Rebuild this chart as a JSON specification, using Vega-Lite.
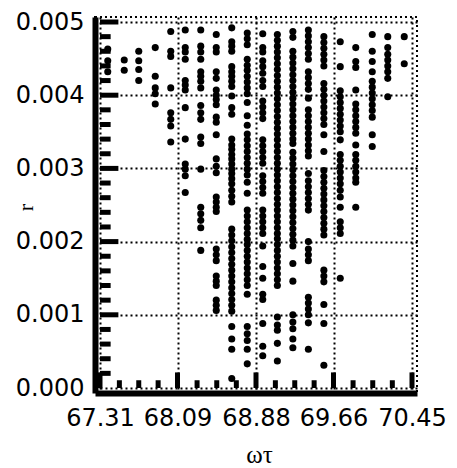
{
"$schema": "https://vega.github.io/schema/vega-lite/v6.json",
"width": 322, "height": 376,
"autosize": {"type": "none"},
"padding": {"left": 95, "top": 17, "right": 40, "bottom": 75},
"background": "white",
"config": {"view": {"stroke": "black", "strokeWidth": 2, "strokeDash": [2, 3]}},
"resolve": {"axis": {"x": "independent", "y": "independent"}},
"datasets": {
"pts": [
{"wt":67.388,"r":0.00463},{"wt":67.388,"r":0.00447},{"wt":67.388,"r":0.00432},
{"wt":67.554,"r":0.00448},{"wt":67.554,"r":0.00434},
{"wt":67.700,"r":0.00460},{"wt":67.700,"r":0.00447},{"wt":67.700,"r":0.00435},{"wt":67.700,"r":0.00420},
{"wt":67.866,"r":0.00465},{"wt":67.866,"r":0.00426},{"wt":67.866,"r":0.00410},{"wt":67.866,"r":0.00402},{"wt":67.866,"r":0.00388},
{"wt":68.022,"r":0.00487},{"wt":68.022,"r":0.00460},{"wt":68.022,"r":0.00453},{"wt":68.022,"r":0.00410},{"wt":68.022,"r":0.00376},{"wt":68.022,"r":0.00367},{"wt":68.022,"r":0.00358},{"wt":68.022,"r":0.00336},
{"wt":68.168,"r":0.00489},{"wt":68.168,"r":0.00465},{"wt":68.168,"r":0.00459},{"wt":68.168,"r":0.00449},{"wt":68.168,"r":0.00420},{"wt":68.168,"r":0.00414},{"wt":68.168,"r":0.00407},{"wt":68.168,"r":0.00383},{"wt":68.168,"r":0.00340},{"wt":68.168,"r":0.00306},{"wt":68.168,"r":0.00299},{"wt":68.168,"r":0.00290},{"wt":68.168,"r":0.00267},
{"wt":68.324,"r":0.00489},{"wt":68.324,"r":0.00467},{"wt":68.324,"r":0.00459},{"wt":68.324,"r":0.00449},{"wt":68.324,"r":0.00432},{"wt":68.324,"r":0.00426},{"wt":68.324,"r":0.00419},{"wt":68.324,"r":0.00410},{"wt":68.324,"r":0.00386},{"wt":68.324,"r":0.00376},{"wt":68.324,"r":0.00367},{"wt":68.324,"r":0.00343},{"wt":68.324,"r":0.00334},{"wt":68.324,"r":0.00299},{"wt":68.324,"r":0.00247},{"wt":68.324,"r":0.00238},{"wt":68.324,"r":0.00229},{"wt":68.324,"r":0.00219},{"wt":68.324,"r":0.00188},
{"wt":68.480,"r":0.00483},{"wt":68.480,"r":0.00465},{"wt":68.480,"r":0.00459},{"wt":68.480,"r":0.00432},{"wt":68.480,"r":0.00423},{"wt":68.480,"r":0.00407},{"wt":68.480,"r":0.00400},{"wt":68.480,"r":0.00394},{"wt":68.480,"r":0.00387},{"wt":68.480,"r":0.00370},{"wt":68.480,"r":0.00363},{"wt":68.480,"r":0.00346},{"wt":68.480,"r":0.00313},{"wt":68.480,"r":0.00303},{"wt":68.480,"r":0.00294},{"wt":68.480,"r":0.00261},{"wt":68.480,"r":0.00254},{"wt":68.480,"r":0.00247},{"wt":68.480,"r":0.00241},{"wt":68.480,"r":0.00190},{"wt":68.480,"r":0.00182},{"wt":68.480,"r":0.00174},{"wt":68.480,"r":0.00153},{"wt":68.480,"r":0.00146},{"wt":68.480,"r":0.00140},{"wt":68.480,"r":0.00120},{"wt":68.480,"r":0.00113},{"wt":68.480,"r":0.00106},
{"wt":68.636,"r":0.00492},{"wt":68.636,"r":0.00473},{"wt":68.636,"r":0.00467},{"wt":68.636,"r":0.00460},{"wt":68.636,"r":0.00439},{"wt":68.636,"r":0.00432},{"wt":68.636,"r":0.00426},{"wt":68.636,"r":0.00419},{"wt":68.636,"r":0.00412},{"wt":68.636,"r":0.00399},{"wt":68.636,"r":0.00383},{"wt":68.636,"r":0.00374},{"wt":68.636,"r":0.00340},{"wt":68.636,"r":0.00332},{"wt":68.636,"r":0.00326},{"wt":68.636,"r":0.00319},{"wt":68.636,"r":0.00313},{"wt":68.636,"r":0.00306},{"wt":68.636,"r":0.00299},{"wt":68.636,"r":0.00293},{"wt":68.636,"r":0.00286},{"wt":68.636,"r":0.00279},{"wt":68.636,"r":0.00270},{"wt":68.636,"r":0.00262},{"wt":68.636,"r":0.00254},{"wt":68.636,"r":0.00217},{"wt":68.636,"r":0.00209},{"wt":68.636,"r":0.00201},{"wt":68.636,"r":0.00193},{"wt":68.636,"r":0.00185},{"wt":68.636,"r":0.00177},{"wt":68.636,"r":0.00169},{"wt":68.636,"r":0.00161},{"wt":68.636,"r":0.00153},{"wt":68.636,"r":0.00145},{"wt":68.636,"r":0.00137},{"wt":68.636,"r":0.00129},{"wt":68.636,"r":0.00121},{"wt":68.636,"r":0.00113},{"wt":68.636,"r":0.00105},{"wt":68.636,"r":0.00084},{"wt":68.636,"r":0.00067},{"wt":68.636,"r":0.00053},{"wt":68.636,"r":0.00013},
{"wt":68.792,"r":0.00485},{"wt":68.792,"r":0.00477},{"wt":68.792,"r":0.00469},{"wt":68.792,"r":0.00449},{"wt":68.792,"r":0.00441},{"wt":68.792,"r":0.00434},{"wt":68.792,"r":0.00426},{"wt":68.792,"r":0.00418},{"wt":68.792,"r":0.00410},{"wt":68.792,"r":0.00402},{"wt":68.792,"r":0.00390},{"wt":68.792,"r":0.00372},{"wt":68.792,"r":0.00359},{"wt":68.792,"r":0.00347},{"wt":68.792,"r":0.00339},{"wt":68.792,"r":0.00331},{"wt":68.792,"r":0.00323},{"wt":68.792,"r":0.00315},{"wt":68.792,"r":0.00307},{"wt":68.792,"r":0.00299},{"wt":68.792,"r":0.00291},{"wt":68.792,"r":0.00281},{"wt":68.792,"r":0.00266},{"wt":68.792,"r":0.00243},{"wt":68.792,"r":0.00235},{"wt":68.792,"r":0.00227},{"wt":68.792,"r":0.00219},{"wt":68.792,"r":0.00211},{"wt":68.792,"r":0.00203},{"wt":68.792,"r":0.00196},{"wt":68.792,"r":0.00188},{"wt":68.792,"r":0.00180},{"wt":68.792,"r":0.00172},{"wt":68.792,"r":0.00164},{"wt":68.792,"r":0.00156},{"wt":68.792,"r":0.00148},{"wt":68.792,"r":0.00140},{"wt":68.792,"r":0.00128},{"wt":68.792,"r":0.00084},{"wt":68.792,"r":0.00074},{"wt":68.792,"r":0.00065},{"wt":68.792,"r":0.00053},{"wt":68.792,"r":0.00033},
{"wt":68.948,"r":0.00484},{"wt":68.948,"r":0.00465},{"wt":68.948,"r":0.00459},{"wt":68.948,"r":0.00447},{"wt":68.948,"r":0.00439},{"wt":68.948,"r":0.00430},{"wt":68.948,"r":0.00420},{"wt":68.948,"r":0.00412},{"wt":68.948,"r":0.00392},{"wt":68.948,"r":0.00384},{"wt":68.948,"r":0.00376},{"wt":68.948,"r":0.00368},{"wt":68.948,"r":0.00339},{"wt":68.948,"r":0.00331},{"wt":68.948,"r":0.00323},{"wt":68.948,"r":0.00315},{"wt":68.948,"r":0.00307},{"wt":68.948,"r":0.00290},{"wt":68.948,"r":0.00282},{"wt":68.948,"r":0.00274},{"wt":68.948,"r":0.00266},{"wt":68.948,"r":0.00243},{"wt":68.948,"r":0.00235},{"wt":68.948,"r":0.00227},{"wt":68.948,"r":0.00219},{"wt":68.948,"r":0.00211},{"wt":68.948,"r":0.00194},{"wt":68.948,"r":0.00166},{"wt":68.948,"r":0.00150},{"wt":68.948,"r":0.00128},{"wt":68.948,"r":0.00121},{"wt":68.948,"r":0.00088},{"wt":68.948,"r":0.00057},{"wt":68.948,"r":0.00044},
{"wt":69.095,"r":0.00483},{"wt":69.095,"r":0.00475},{"wt":69.095,"r":0.00467},{"wt":69.095,"r":0.00459},{"wt":69.095,"r":0.00451},{"wt":69.095,"r":0.00443},{"wt":69.095,"r":0.00435},{"wt":69.095,"r":0.00427},{"wt":69.095,"r":0.00419},{"wt":69.095,"r":0.00411},{"wt":69.095,"r":0.00403},{"wt":69.095,"r":0.00395},{"wt":69.095,"r":0.00387},{"wt":69.095,"r":0.00379},{"wt":69.095,"r":0.00371},{"wt":69.095,"r":0.00363},{"wt":69.095,"r":0.00355},{"wt":69.095,"r":0.00347},{"wt":69.095,"r":0.00339},{"wt":69.095,"r":0.00331},{"wt":69.095,"r":0.00323},{"wt":69.095,"r":0.00315},{"wt":69.095,"r":0.00307},{"wt":69.095,"r":0.00299},{"wt":69.095,"r":0.00291},{"wt":69.095,"r":0.00283},{"wt":69.095,"r":0.00275},{"wt":69.095,"r":0.00267},{"wt":69.095,"r":0.00259},{"wt":69.095,"r":0.00251},{"wt":69.095,"r":0.00243},{"wt":69.095,"r":0.00235},{"wt":69.095,"r":0.00227},{"wt":69.095,"r":0.00219},{"wt":69.095,"r":0.00211},{"wt":69.095,"r":0.00204},{"wt":69.095,"r":0.00196},{"wt":69.095,"r":0.00188},{"wt":69.095,"r":0.00180},{"wt":69.095,"r":0.00172},{"wt":69.095,"r":0.00164},{"wt":69.095,"r":0.00156},{"wt":69.095,"r":0.00148},{"wt":69.095,"r":0.00140},{"wt":69.095,"r":0.00097},{"wt":69.095,"r":0.00086},{"wt":69.095,"r":0.00079},{"wt":69.095,"r":0.00061},{"wt":69.095,"r":0.00037},
{"wt":69.251,"r":0.00487},{"wt":69.251,"r":0.00479},{"wt":69.251,"r":0.00460},{"wt":69.251,"r":0.00452},{"wt":69.251,"r":0.00444},{"wt":69.251,"r":0.00436},{"wt":69.251,"r":0.00428},{"wt":69.251,"r":0.00420},{"wt":69.251,"r":0.00412},{"wt":69.251,"r":0.00404},{"wt":69.251,"r":0.00396},{"wt":69.251,"r":0.00388},{"wt":69.251,"r":0.00380},{"wt":69.251,"r":0.00372},{"wt":69.251,"r":0.00364},{"wt":69.251,"r":0.00356},{"wt":69.251,"r":0.00348},{"wt":69.251,"r":0.00340},{"wt":69.251,"r":0.00334},{"wt":69.251,"r":0.00322},{"wt":69.251,"r":0.00314},{"wt":69.251,"r":0.00306},{"wt":69.251,"r":0.00298},{"wt":69.251,"r":0.00290},{"wt":69.251,"r":0.00282},{"wt":69.251,"r":0.00274},{"wt":69.251,"r":0.00266},{"wt":69.251,"r":0.00258},{"wt":69.251,"r":0.00250},{"wt":69.251,"r":0.00242},{"wt":69.251,"r":0.00234},{"wt":69.251,"r":0.00226},{"wt":69.251,"r":0.00218},{"wt":69.251,"r":0.00210},{"wt":69.251,"r":0.00202},{"wt":69.251,"r":0.00194},{"wt":69.251,"r":0.00170},{"wt":69.251,"r":0.00146},{"wt":69.251,"r":0.00100},{"wt":69.251,"r":0.00090},{"wt":69.251,"r":0.00081},{"wt":69.251,"r":0.00067},{"wt":69.251,"r":0.00055},
{"wt":69.407,"r":0.00489},{"wt":69.407,"r":0.00481},{"wt":69.407,"r":0.00473},{"wt":69.407,"r":0.00465},{"wt":69.407,"r":0.00457},{"wt":69.407,"r":0.00449},{"wt":69.407,"r":0.00432},{"wt":69.407,"r":0.00424},{"wt":69.407,"r":0.00416},{"wt":69.407,"r":0.00408},{"wt":69.407,"r":0.00396},{"wt":69.407,"r":0.00380},{"wt":69.407,"r":0.00372},{"wt":69.407,"r":0.00364},{"wt":69.407,"r":0.00356},{"wt":69.407,"r":0.00348},{"wt":69.407,"r":0.00340},{"wt":69.407,"r":0.00332},{"wt":69.407,"r":0.00324},{"wt":69.407,"r":0.00317},{"wt":69.407,"r":0.00293},{"wt":69.407,"r":0.00283},{"wt":69.407,"r":0.00275},{"wt":69.407,"r":0.00267},{"wt":69.407,"r":0.00259},{"wt":69.407,"r":0.00251},{"wt":69.407,"r":0.00243},{"wt":69.407,"r":0.00200},{"wt":69.407,"r":0.00190},{"wt":69.407,"r":0.00182},{"wt":69.407,"r":0.00174},{"wt":69.407,"r":0.00124},{"wt":69.407,"r":0.00116},{"wt":69.407,"r":0.00108},{"wt":69.407,"r":0.00100},{"wt":69.407,"r":0.00089},{"wt":69.407,"r":0.00053},
{"wt":69.563,"r":0.00480},{"wt":69.563,"r":0.00472},{"wt":69.563,"r":0.00464},{"wt":69.563,"r":0.00456},{"wt":69.563,"r":0.00448},{"wt":69.563,"r":0.00440},{"wt":69.563,"r":0.00416},{"wt":69.563,"r":0.00408},{"wt":69.563,"r":0.00400},{"wt":69.563,"r":0.00392},{"wt":69.563,"r":0.00384},{"wt":69.563,"r":0.00376},{"wt":69.563,"r":0.00368},{"wt":69.563,"r":0.00360},{"wt":69.563,"r":0.00346},{"wt":69.563,"r":0.00323},{"wt":69.563,"r":0.00297},{"wt":69.563,"r":0.00289},{"wt":69.563,"r":0.00281},{"wt":69.563,"r":0.00273},{"wt":69.563,"r":0.00265},{"wt":69.563,"r":0.00257},{"wt":69.563,"r":0.00249},{"wt":69.563,"r":0.00241},{"wt":69.563,"r":0.00233},{"wt":69.563,"r":0.00225},{"wt":69.563,"r":0.00217},{"wt":69.563,"r":0.00209},{"wt":69.563,"r":0.00161},{"wt":69.563,"r":0.00153},{"wt":69.563,"r":0.00145},{"wt":69.563,"r":0.00114},{"wt":69.563,"r":0.00088},{"wt":69.563,"r":0.00031},
{"wt":69.728,"r":0.00473},{"wt":69.728,"r":0.00439},{"wt":69.728,"r":0.00406},{"wt":69.728,"r":0.00398},{"wt":69.728,"r":0.00390},{"wt":69.728,"r":0.00382},{"wt":69.728,"r":0.00374},{"wt":69.728,"r":0.00366},{"wt":69.728,"r":0.00358},{"wt":69.728,"r":0.00350},{"wt":69.728,"r":0.00339},{"wt":69.728,"r":0.00319},{"wt":69.728,"r":0.00311},{"wt":69.728,"r":0.00303},{"wt":69.728,"r":0.00295},{"wt":69.728,"r":0.00287},{"wt":69.728,"r":0.00279},{"wt":69.728,"r":0.00270},{"wt":69.728,"r":0.00261},{"wt":69.728,"r":0.00247},{"wt":69.728,"r":0.00227},{"wt":69.728,"r":0.00219},{"wt":69.728,"r":0.00211},{"wt":69.728,"r":0.00150},
{"wt":69.884,"r":0.00465},{"wt":69.884,"r":0.00446},{"wt":69.884,"r":0.00438},{"wt":69.884,"r":0.00407},{"wt":69.884,"r":0.00388},{"wt":69.884,"r":0.00380},{"wt":69.884,"r":0.00372},{"wt":69.884,"r":0.00364},{"wt":69.884,"r":0.00356},{"wt":69.884,"r":0.00348},{"wt":69.884,"r":0.00332},{"wt":69.884,"r":0.00319},{"wt":69.884,"r":0.00311},{"wt":69.884,"r":0.00303},{"wt":69.884,"r":0.00295},{"wt":69.884,"r":0.00287},{"wt":69.884,"r":0.00281},{"wt":69.884,"r":0.00247},
{"wt":70.050,"r":0.00483},{"wt":70.050,"r":0.00460},{"wt":70.050,"r":0.00446},{"wt":70.050,"r":0.00432},{"wt":70.050,"r":0.00419},{"wt":70.050,"r":0.00411},{"wt":70.050,"r":0.00403},{"wt":70.050,"r":0.00395},{"wt":70.050,"r":0.00387},{"wt":70.050,"r":0.00379},{"wt":70.050,"r":0.00370},{"wt":70.050,"r":0.00346},{"wt":70.050,"r":0.00330},
{"wt":70.206,"r":0.00480},{"wt":70.206,"r":0.00465},{"wt":70.206,"r":0.00456},{"wt":70.206,"r":0.00448},{"wt":70.206,"r":0.00440},{"wt":70.206,"r":0.00432},{"wt":70.206,"r":0.00423},{"wt":70.206,"r":0.00398},
{"wt":70.372,"r":0.00480},{"wt":70.372,"r":0.00443}
],
"xmaj": [{"wt":67.31},{"wt":68.09},{"wt":68.88},{"wt":69.66},{"wt":70.45}],
"xmin": [{"wt":67.505},{"wt":67.7},{"wt":67.895},{"wt":68.287},{"wt":68.485},{"wt":68.682},{"wt":69.075},{"wt":69.27},{"wt":69.465},{"wt":69.857},{"wt":70.055},{"wt":70.252}],
"ymaj": [{"r":0.001},{"r":0.002},{"r":0.003},{"r":0.004},{"r":0.005}],
"ymin": [{"r":0.0002},{"r":0.0004},{"r":0.0006},{"r":0.0008},{"r":0.0012},{"r":0.0014},{"r":0.0016},{"r":0.0018},{"r":0.0022},{"r":0.0024},{"r":0.0026},{"r":0.0028},{"r":0.0032},{"r":0.0034},{"r":0.0036},{"r":0.0038},{"r":0.0042},{"r":0.0044},{"r":0.0046},{"r":0.0048}]
},
"layer": [
{
"data": {"name": "pts"},
"mark": {"type": "point", "filled": true, "shape": "circle", "size": 50, "color": "black", "opacity": 1},
"encoding": {
  "x": {"field": "wt", "type": "quantitative",
    "scale": {"domain": [67.31, 70.45], "nice": false, "zero": false},
    "axis": {
      "orient": "bottom",
      "title": "ωτ", "titleFont": "Liberation Serif", "titleFontSize": 25, "titleFontWeight": "normal", "titleColor": "black",
      "titleX": 164, "titleY": 69, "titleBaseline": "alphabetic", "titleAlign": "center", "titleAnchor": null,
      "values": [67.31, 68.09, 68.88, 69.66, 70.45],
      "format": ".2f",
      "labelFont": "DejaVu Sans", "labelFontSize": 24, "labelColor": "black", "labelPadding": 13,
      "labelOverlap": false, "labelFlush": false, "labelBound": false,
      "ticks": false,
      "domainColor": "black", "domainWidth": 6,
      "grid": true, "gridColor": "black", "gridDash": [2, 3], "gridWidth": 2
    }
  },
  "y": {"field": "r", "type": "quantitative",
    "scale": {"domain": [0, 0.005], "nice": false, "zero": true},
    "axis": {
      "orient": "left",
      "title": "r", "titleFont": "Liberation Serif", "titleFontSize": 22, "titleFontWeight": "normal", "titleColor": "black",
      "titleAngle": 270, "titleX": -63, "titleY": 190, "titleBaseline": "alphabetic", "titleAlign": "center", "titleAnchor": null,
      "values": [0, 0.001, 0.002, 0.003, 0.004, 0.005],
      "format": ".3f",
      "labelFont": "DejaVu Sans", "labelFontSize": 24, "labelColor": "black", "labelPadding": 11,
      "labelOverlap": false, "labelFlush": false, "labelBound": false,
      "ticks": false,
      "domainColor": "black", "domainWidth": 6,
      "grid": true, "gridColor": "black", "gridDash": [2, 3], "gridWidth": 2
    }
  }
}
},
{
"data": {"name": "xmaj"},
"mark": {"type": "bar", "width": 5, "color": "black"},
"encoding": {
  "x": {"field": "wt", "type": "quantitative", "axis": null},
  "y": {"datum": 0, "type": "quantitative", "axis": null},
  "y2": {"datum": 0.000213}
}
},
{
"data": {"name": "xmin"},
"mark": {"type": "bar", "width": 5, "color": "black"},
"encoding": {
  "x": {"field": "wt", "type": "quantitative", "axis": null},
  "y": {"datum": 0, "type": "quantitative", "axis": null},
  "y2": {"datum": 0.000106}
}
},
{
"data": {"name": "ymaj"},
"mark": {"type": "bar", "height": 5, "color": "black"},
"encoding": {
  "y": {"field": "r", "type": "quantitative", "axis": null},
  "x": {"datum": 67.31, "type": "quantitative", "axis": null},
  "x2": {"datum": 67.495}
}
},
{
"data": {"name": "ymin"},
"mark": {"type": "bar", "height": 5, "color": "black"},
"encoding": {
  "y": {"field": "r", "type": "quantitative", "axis": null},
  "x": {"datum": 67.31, "type": "quantitative", "axis": null},
  "x2": {"datum": 67.417}
}
}
]
}
